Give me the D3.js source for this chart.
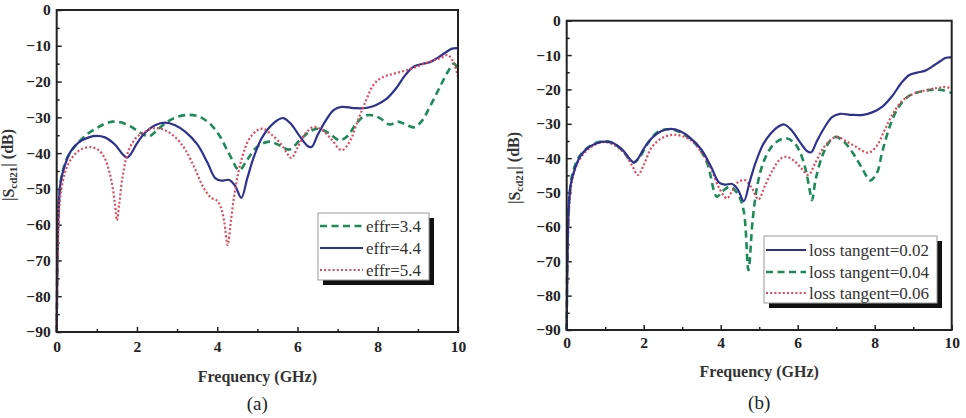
<!DOCTYPE html>
<html>
<head>
<meta charset="utf-8">
<script src="https://cdn.jsdelivr.net/npm/d3@7"></script>
<style>
  body { margin: 0; background: #fff; }
  svg text { font-family: "Liberation Serif", "Times New Roman", serif; }
  .tick text { font-weight: bold; font-size: 15.5px; fill: #222; }
  .tick line { stroke: #222; stroke-width: 1.5; }
  .axis-title { font-weight: bold; font-size: 16px; fill: #333; }
  .legend-text { font-size: 17px; fill: #333; }
</style>
</head>
<body>
<svg id="chart" width="966" height="418"></svg>
<script>
/*
 * Data: [frequency (GHz), |Scd21| (dB)]
 */
const majorFreqTicks = [0, 2, 4, 6, 8, 10];
const minorFreqTicks = [1, 3, 5, 7, 9];
const majorDbTicks = [0, -10, -20, -30, -40, -50, -60, -70, -80, -90];
const minorDbTicks = [-5, -15, -25, -35, -45, -55, -65, -75, -85];

// effr = 4.4 (also loss tangent = 0.02 in panel b)
const blueCurve = [[0,-90],[0.02,-70],[0.05,-55],[0.1,-48],[0.2,-43.5],[0.35,-39.5],[0.55,-37],[0.8,-35.6],[1.0,-35.2],
  [1.2,-35.6],[1.45,-37.6],[1.65,-40.4],[1.75,-41.3],[1.85,-40.2],[2.0,-37.3],[2.2,-34.3],[2.45,-32.2],[2.7,-31.5],
  [2.95,-32.2],[3.2,-34],[3.5,-37.5],[3.75,-42.5],[3.95,-47],[4.1,-47.7],[4.3,-47.5],[4.45,-49.2],[4.6,-52.5],
  [4.75,-47],[4.9,-41.5],[5.1,-36],[5.3,-32.8],[5.5,-30.8],[5.65,-30.2],[5.85,-32],[6.05,-35.2],[6.25,-38],
  [6.35,-38.3],[6.5,-35],[6.7,-31],[6.9,-28],[7.1,-27.1],[7.4,-27.4],[7.7,-27.4],[7.95,-26.6],[8.2,-25],[8.45,-22],
  [8.7,-18],[8.9,-15.8],[9.1,-15.1],[9.3,-14.6],[9.5,-13.3],[9.7,-11.8],[9.85,-10.8],[10,-10.7]];

// effr = 3.4
const effr34 = [[0,-90],[0.03,-62],[0.08,-50],[0.15,-45],[0.3,-40.5],[0.5,-37.5],[0.75,-34.8],[1.0,-33],[1.2,-31.8],
  [1.4,-31.2],[1.6,-31.4],[1.85,-32.6],[2.1,-34.4],[2.3,-35.3],[2.5,-33.6],[2.75,-31.3],[3.0,-29.9],[3.3,-29.3],
  [3.55,-29.8],[3.8,-31.6],[4.05,-35],[4.3,-40.3],[4.55,-44.8],[4.75,-41.8],[5.0,-38.2],[5.3,-36.8],[5.55,-37.8],
  [5.8,-39],[6.05,-36.5],[6.3,-34],[6.5,-33.2],[6.75,-34.2],[7.05,-36.4],[7.25,-35.2],[7.45,-32],[7.65,-29.7],
  [7.85,-29.4],[8.05,-30.2],[8.3,-32],[8.5,-31.2],[8.7,-32],[8.9,-32.8],[9.1,-31],[9.3,-27],[9.55,-21.5],
  [9.75,-17.2],[9.9,-15],[10,-16.8]];

// effr = 5.4
const effr54 = [[0,-90],[0.03,-66],[0.08,-53],[0.15,-48],[0.25,-44],[0.4,-41],[0.6,-39],[0.85,-38.3],[1.05,-39.2],
  [1.2,-41.5],[1.35,-47],[1.45,-54],[1.5,-58.8],[1.56,-54],[1.65,-46],[1.8,-39],[2.0,-35.5],[2.2,-34],[2.45,-33],
  [2.7,-33.6],[2.95,-35.5],[3.2,-39],[3.45,-44.5],[3.65,-49.5],[3.85,-52.5],[4.0,-53.3],[4.1,-55.5],[4.18,-59.5],
  [4.26,-65.7],[4.34,-59],[4.45,-50],[4.6,-42],[4.8,-36],[5.0,-33.6],[5.15,-33.2],[5.35,-34.8],[5.6,-37.6],
  [5.75,-40.2],[5.85,-41.4],[6.0,-38.5],[6.2,-34.5],[6.4,-32.7],[6.6,-33.4],[6.85,-36.2],[7.1,-39.2],[7.3,-36.8],
  [7.5,-31],[7.7,-25.5],[7.9,-20.8],[8.1,-18.9],[8.4,-17.8],[8.7,-16.9],[9.0,-15.7],[9.3,-14.4],[9.55,-13.5],
  [9.75,-12.6],[9.9,-15],[10,-18.7]];

// loss tangent = 0.04
const loss004 = [[0,-90],[0.03,-62],[0.08,-50],[0.15,-44.5],[0.3,-40],[0.5,-37.3],[0.75,-35.6],[1.0,-35.1],[1.2,-35.6],
  [1.45,-37.8],[1.65,-40.6],[1.75,-41.2],[1.9,-39.6],[2.1,-35.8],[2.35,-32.5],[2.6,-31.6],[2.85,-32],[3.1,-33.5],
  [3.4,-36.5],[3.65,-41.5],[3.9,-51.2],[4.05,-49.6],[4.24,-48.3],[4.45,-50.5],[4.6,-55.5],[4.72,-72.6],[4.83,-58],
  [4.95,-48],[5.1,-41.5],[5.3,-37],[5.5,-34.9],[5.7,-34.2],[5.9,-35.4],[6.05,-38],[6.2,-43],[6.3,-48.5],[6.37,-52.2],
  [6.47,-46],[6.65,-39],[6.85,-34.8],[7.0,-33.8],[7.2,-35.2],[7.45,-38.8],[7.7,-43.5],[7.88,-46.5],[8.05,-44.5],
  [8.2,-38],[8.4,-30.5],[8.6,-25.5],[8.85,-22.2],[9.1,-20.9],[9.4,-20.2],[9.7,-20.1],[10,-21]];

// loss tangent = 0.06
const loss006 = [[0,-90],[0.03,-64],[0.08,-52],[0.15,-46],[0.3,-41],[0.5,-38],[0.75,-36],[1.0,-35.3],[1.25,-36.3],
  [1.5,-38.6],[1.7,-42.2],[1.85,-44.9],[2.0,-42],[2.2,-37],[2.45,-34.3],[2.75,-33.2],[3.0,-33.6],[3.25,-35],
  [3.5,-38.3],[3.75,-43],[3.95,-48.5],[4.16,-51.7],[4.3,-49.5],[4.45,-47],[4.63,-46.4],[4.8,-48.5],[4.98,-52],
  [5.15,-48],[5.35,-43.5],[5.55,-40.2],[5.71,-39.6],[5.9,-40.7],[6.1,-43],[6.28,-44.9],[6.45,-41.5],[6.7,-36.5],
  [7.0,-33.8],[7.25,-35],[7.5,-36.6],[7.83,-38.4],[8.05,-36.5],[8.25,-32],[8.45,-27.5],[8.7,-23.5],[9.0,-21.3],
  [9.3,-20.3],[9.6,-19.6],[9.8,-19.3],[10,-19.6]];

const panelALabels = ['effr=3.4', 'effr=4.4', 'effr=5.4'];
const panelBLabels = ['loss tangent=0.02', 'loss tangent=0.04', 'loss tangent=0.06'];

// Line styles
const styles = {
  green: { color: '#1c8b5a', width: 2.6, dash: '7,4.5' },
  blue:  { color: '#2e3192', width: 2.2, dash: null },
  red:   { color: '#e0485a', width: 2.2, dash: '2,2.2' }
};

const svg = d3.select('#chart');

function drawPanel(cfg) {
  const x = d3.scaleLinear().domain([0, 10]).range(cfg.xRange);
  const y = d3.scaleLinear().domain([-90, 0]).range(cfg.yRange);
  const g = svg.append('g');

  // ticks (inward, no domain path)
  g.append('g')
      .attr('transform', `translate(0, ${cfg.yRange[0]})`)
      .call(d3.axisBottom(x).tickValues(majorFreqTicks).tickSize(-5).tickPadding(cfg.xPad))
      .call(a => a.select('.domain').remove());
  g.append('g')
      .attr('transform', `translate(0, ${cfg.yRange[0]})`)
      .call(d3.axisBottom(x).tickValues(minorFreqTicks).tickSize(-3).tickFormat(''))
      .call(a => a.select('.domain').remove());
  g.append('g')
      .attr('transform', `translate(${cfg.xRange[0]}, 0)`)
      .call(d3.axisLeft(y).tickValues(majorDbTicks).tickSize(-5).tickPadding(6))
      .call(a => a.select('.domain').remove());
  g.append('g')
      .attr('transform', `translate(${cfg.xRange[0]}, 0)`)
      .call(d3.axisLeft(y).tickValues(minorDbTicks).tickSize(-3).tickFormat(''))
      .call(a => a.select('.domain').remove());

  // curves
  const line = d3.line()
      .x(d => x(d[0]))
      .y(d => y(d[1]))
      .curve(d3.curveCatmullRom.alpha(0.5));

  g.selectAll('.curve')
    .data(cfg.series)
    .join('path')
      .attr('class', 'curve')
      .attr('fill', 'none')
      .attr('stroke', d => d.style.color)
      .attr('stroke-width', d => d.style.width)
      .attr('stroke-dasharray', d => d.style.dash)
      .attr('d', d => line(d.values));

  // frame
  g.append('rect')
      .attr('x', cfg.xRange[0])
      .attr('y', cfg.yRange[1])
      .attr('width', cfg.xRange[1] - cfg.xRange[0])
      .attr('height', cfg.yRange[0] - cfg.yRange[1])
      .attr('fill', 'none')
      .attr('stroke', '#222')
      .attr('stroke-width', 2);

  // legend with drop shadow
  const lg = cfg.legend;
  g.append('rect')
      .attr('x', lg.x + 5).attr('y', lg.y + 5)
      .attr('width', lg.w).attr('height', lg.h)
      .attr('fill', '#111');
  g.append('rect')
      .attr('x', lg.x).attr('y', lg.y)
      .attr('width', lg.w).attr('height', lg.h)
      .attr('fill', '#fff')
      .attr('stroke', '#999')
      .attr('stroke-width', 1);

  const entry = g.selectAll('.legend-entry')
    .data(cfg.legendOrder)
    .join('g')
      .attr('class', 'legend-entry')
      .attr('transform', (d, i) => `translate(${lg.x}, ${lg.y + lg.rows[i]})`);

  entry.append('line')
      .attr('x1', 2).attr('x2', lg.sample)
      .attr('stroke', d => d.style.color)
      .attr('stroke-width', d => d.style.width)
      .attr('stroke-dasharray', d => d.style.dash);

  entry.append('text')
      .attr('class', 'legend-text')
      .attr('x', lg.sample + 3)
      .attr('dy', '0.35em')
      .text(d => d.label);

  // axis titles
  g.append('text')
      .attr('class', 'axis-title')
      .attr('text-anchor', 'middle')
      .attr('x', (cfg.xRange[0] + cfg.xRange[1]) / 2)
      .attr('y', cfg.xTitleY)
      .text('Frequency (GHz)');

  const yt = g.append('text')
      .attr('class', 'axis-title')
      .attr('text-anchor', 'middle')
      .attr('transform', `translate(${cfg.yTitleX}, ${cfg.yTitleY}) rotate(-90)`);
  yt.append('tspan').text('|S');
  yt.append('tspan').attr('font-size', '11px').attr('dy', '0.3em').text('cd21');
  yt.append('tspan').attr('dy', '-0.3em').text('| (dB)');

  g.append('text')
      .attr('text-anchor', 'middle')
      .attr('font-size', '19px')
      .attr('fill', '#222')
      .attr('x', (cfg.xRange[0] + cfg.xRange[1]) / 2)
      .attr('y', cfg.capY)
      .text(cfg.caption);
}

const seriesA = [
  { label: panelALabels[0], values: effr34, style: styles.green },
  { label: panelALabels[1], values: blueCurve, style: styles.blue },
  { label: panelALabels[2], values: effr54, style: styles.red }
];
drawPanel({
  xRange: [56.7, 458], yRange: [332, 10], xPad: 9,
  series: seriesA,
  legendOrder: seriesA,
  legend: { x: 318, y: 213, w: 111, h: 67, sample: 45, rows: [13, 35, 57] },
  xTitleY: 382, yTitleX: 14, yTitleY: 165,
  capY: 410, caption: '(a)'
});

const seriesB = [
  { label: panelBLabels[1], values: loss004, style: styles.green },
  { label: panelBLabels[2], values: loss006, style: styles.red },
  { label: panelBLabels[0], values: blueCurve, style: styles.blue }
];
drawPanel({
  xRange: [566.7, 951.7], yRange: [330, 20.7], xPad: 7,
  series: seriesB,
  legendOrder: [seriesB[2], seriesB[0], seriesB[1]],
  legend: { x: 764, y: 236, w: 173, h: 67, sample: 42, rows: [14, 36, 57] },
  xTitleY: 377, yTitleX: 520, yTitleY: 168,
  capY: 409, caption: '(b)'
});
</script>
</body>
</html>
